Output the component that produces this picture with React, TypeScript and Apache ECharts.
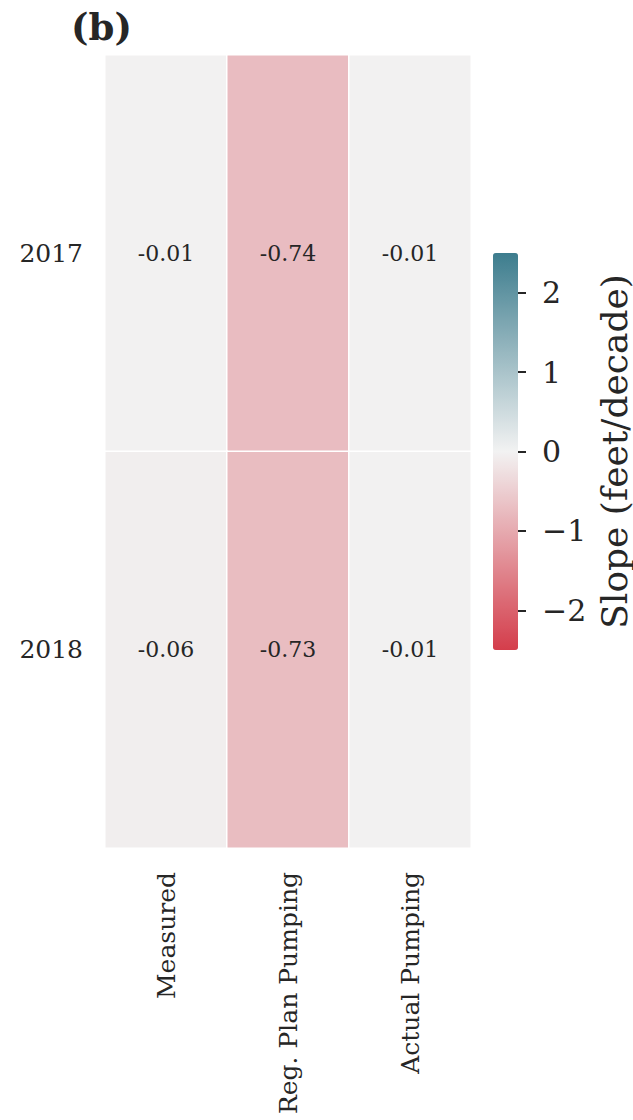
import React, { useEffect, useRef } from "react";
import * as echarts from "echarts";

const columns = ["Measured", "Reg. Plan Pumping", "Actual Pumping"];
const years = ["2017", "2018"];
const values2017 = [-0.01, -0.74, -0.01];
const values2018 = [-0.06, -0.73, -0.01];
const colorbarTicks = [-2, -1, 0, 1, 2];
const vMin = -2.5;
const vMax = 2.5;
const paletteColors = ["#d43d4b", "#f2f2f2", "#3d7d8e"];

const FONT = "DejaVu Serif";
const TEXT = "#262626";

export default function App() {
  const ref = useRef<HTMLDivElement>(null);
  useEffect(() => {
    if (!ref.current) return;
    const chart = echarts.init(ref.current, undefined, { renderer: "svg" });
    const rows = [values2017, values2018];
    const data: [number, number, number][] = [];
    rows.forEach((row, yi) => row.forEach((v, xi) => data.push([xi, yi, v])));
    chart.setOption({
      animation: false,
      backgroundColor: "#ffffff",
      textStyle: { fontFamily: FONT },
      title: {
        text: "(b)",
        left: 66,
        top: 3,
        textStyle: { fontFamily: FONT, fontSize: 37, fontWeight: "bold", color: TEXT },
      },
      grid: [
        { left: 105, top: 55, width: 366, height: 793 },
        { left: 493, top: 253, width: 25, height: 397 },
      ],
      xAxis: [
        {
          type: "category",
          gridIndex: 0,
          data: columns,
          position: "bottom",
          axisLine: { show: false },
          axisTick: { show: false },
          splitLine: { show: false },
          axisLabel: { rotate: 90, margin: 24, fontSize: 25, color: TEXT, fontFamily: FONT },
        },
        {
          type: "category",
          gridIndex: 1,
          data: [""],
          show: false,
        },
      ],
      yAxis: [
        {
          type: "category",
          gridIndex: 0,
          data: years,
          inverse: true,
          axisLine: { show: false },
          axisTick: { show: false },
          splitLine: { show: false },
          axisLabel: { margin: 22, fontSize: 25, color: TEXT, fontFamily: FONT },
        },
        {
          type: "value",
          gridIndex: 1,
          position: "right",
          min: vMin,
          max: vMax,
          axisLine: { show: false },
          splitLine: { show: false },
          axisTick: {
            show: true,
            length: 10,
            customValues: colorbarTicks,
            lineStyle: { color: TEXT, width: 2 },
          },
          axisLabel: {
            customValues: colorbarTicks,
            margin: 26,
            fontSize: 30,
            color: TEXT,
            fontFamily: FONT,
            formatter: (v: number) => String(v).replace("-", "\u2212"),
          },
          name: "Slope (feet/decade)",
          nameLocation: "middle",
          nameRotate: 90,
          nameGap: 80,
          nameTextStyle: { fontSize: 36, color: TEXT, fontFamily: FONT },
        },
      ],
      visualMap: {
        type: "continuous",
        min: vMin,
        max: vMax,
        seriesIndex: 0,
        calculable: false,
        show: true,
        orient: "vertical",
        left: 493,
        top: 253,
        padding: 0,
        itemWidth: 25,
        itemHeight: 397,
        text: ["", ""],
        showLabel: false,
        inRange: { color: paletteColors },
        hoverLink: false,
      },
      series: [
        {
          type: "heatmap",
          xAxisIndex: 0,
          yAxisIndex: 0,
          data,
          itemStyle: { borderColor: "#ffffff", borderWidth: 1.5 },
          label: {
            show: true,
            fontSize: 22,
            color: TEXT,
            fontFamily: FONT,
            formatter: (p: any) => p.value[2].toFixed(2),
          },
          emphasis: { disabled: true },
        },
      ],
    });
    return () => chart.dispose();
  }, []);
  return (
    <div
      ref={ref}
      style={{ position: "fixed", left: 0, top: 0, width: 633, height: 1120 }}
    />
  );
}
